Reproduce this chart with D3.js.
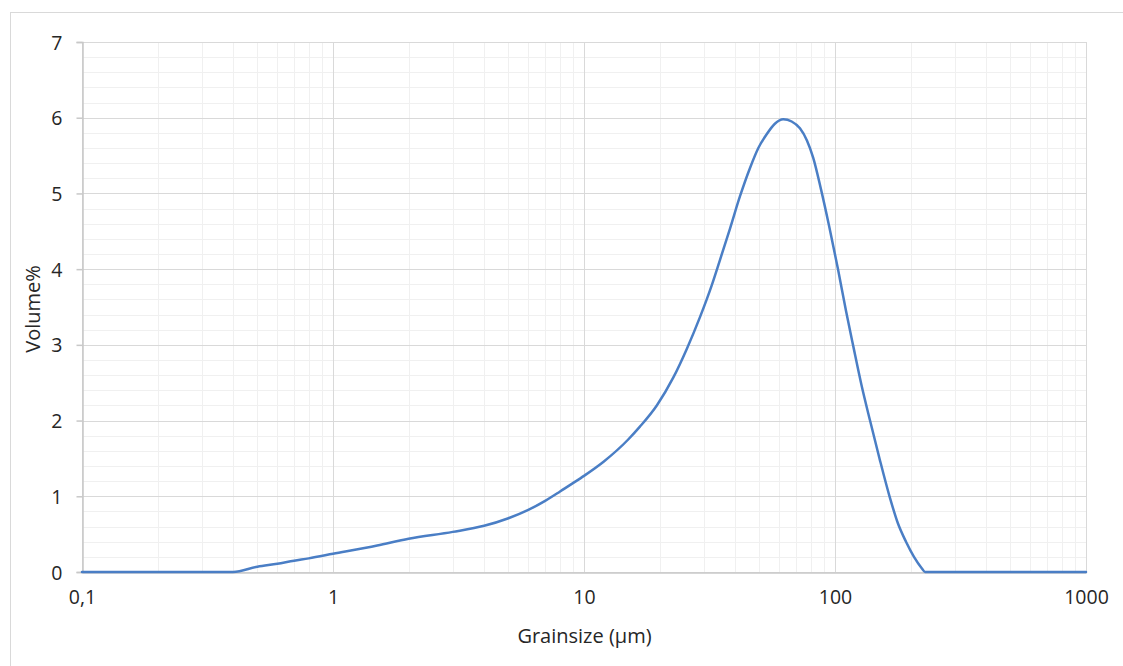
<!DOCTYPE html>
<html>
<head>
<meta charset="utf-8">
<script src="https://cdn.jsdelivr.net/npm/d3@7"></script>
<style>
  html, body { margin: 0; padding: 0; background: #ffffff; }
  svg { display: block; }
  text { font-family: "Open Sans", "DejaVu Sans", sans-serif; fill: #262626; }
</style>
</head>
<body>
<svg id="chart" width="1123" height="666"></svg>
<script>
// Grain size distribution (laser diffraction), volume % per size class
const grainSize = [0.1, 0.2, 0.3, 0.4, 0.5, 0.6, 0.7, 0.8, 1, 1.5, 2, 3, 4, 5, 6, 7, 8, 9, 10,
                   12, 15, 16.7, 19.5, 22.7, 25.7, 29, 32.3, 34.8, 38.2, 41.8, 45.9, 49.5, 53.4, 57.6,
                   62.2, 67.2, 72.5, 77.3, 81.9, 88, 94.6, 102.8, 110.6, 118.3, 127.5, 137.9, 150.4,
                   164.9, 178.2, 191.8, 206.4, 221.6, 228.4, 300, 500, 1000];
const volume    = [0, 0, 0, 0, 0.07, 0.11, 0.15, 0.18, 0.24, 0.35, 0.44, 0.53, 0.61, 0.71, 0.82, 0.94, 1.06, 1.17, 1.27,
                   1.46, 1.75, 1.92, 2.20, 2.57, 2.95, 3.37, 3.79, 4.12, 4.54, 4.96, 5.34, 5.60, 5.78, 5.92,
                   5.98, 5.95, 5.86, 5.70, 5.47, 5.05, 4.58, 4.0, 3.45, 2.98, 2.47, 2.0, 1.5,
                   1.0, 0.64, 0.40, 0.2, 0.05, 0, 0, 0, 0];

const xTickValues = [0.1, 1, 10, 100, 1000];
const xTickLabels = ["0,1", "1", "10", "100", "1000"];
const yTickValues = [0, 1, 2, 3, 4, 5, 6, 7];
const xAxisTitle = "Grainsize (µm)";
const yAxisTitle = "Volume%";

const svg = d3.select("#chart");
const plotLeft = 82, plotRight = 1086, plotTop = 42, plotBottom = 572;

const x = d3.scaleLog().domain([0.1, 1000]).range([plotLeft, plotRight]);
const y = d3.scaleLinear().domain([0, 7]).range([plotBottom, plotTop]);

// chart frame
svg.append("rect")
  .attr("x", 10.5).attr("y", 12.5)
  .attr("width", 1130).attr("height", 700)
  .attr("fill", "#ffffff").attr("stroke", "#d9d9d9").attr("stroke-width", 1);

// minor grid
const minorX = [];
for (let d = 0.1; d < 1000; d *= 10) for (let k = 2; k <= 9; k++) minorX.push(+(d * k).toPrecision(3));
const minorY = d3.range(0, 7.001, 0.2).filter(v => Math.abs(v - Math.round(v)) > 1e-6);

const g = svg.append("g").attr("shape-rendering", "crispEdges");
g.selectAll(".mx").data(minorX).join("line")
  .attr("x1", d => Math.round(x(d)) + 0.5).attr("x2", d => Math.round(x(d)) + 0.5)
  .attr("y1", plotTop).attr("y2", plotBottom)
  .attr("stroke", "#f0f0f0").attr("stroke-width", 1.5);
g.selectAll(".my").data(minorY).join("line")
  .attr("x1", plotLeft).attr("x2", plotRight)
  .attr("y1", d => Math.round(y(d)) + 0.5).attr("y2", d => Math.round(y(d)) + 0.5)
  .attr("stroke", "#f0f0f0").attr("stroke-width", 1.5);

// major grid
g.selectAll(".Mx").data(xTickValues).join("line")
  .attr("x1", d => Math.round(x(d)) + 0.5).attr("x2", d => Math.round(x(d)) + 0.5)
  .attr("y1", plotTop).attr("y2", plotBottom)
  .attr("stroke", "#d9d9d9").attr("stroke-width", 1.5);
g.selectAll(".My").data(yTickValues).join("line")
  .attr("x1", plotLeft).attr("x2", plotRight)
  .attr("y1", d => Math.round(y(d)) + 0.5).attr("y2", d => Math.round(y(d)) + 0.5)
  .attr("stroke", "#d9d9d9").attr("stroke-width", 1.5);

// y axis
const yAxis = svg.append("g")
  .attr("transform", `translate(${plotLeft + 0.5},0)`)
  .call(d3.axisLeft(y).tickValues(yTickValues).tickSize(6).tickPadding(14).tickFormat(d3.format("d")));
yAxis.select(".domain").attr("stroke", "#c8c8c8").attr("stroke-width", 1.5);
yAxis.selectAll(".tick line").attr("stroke", "#c8c8c8").attr("stroke-width", 1.5);
yAxis.selectAll("text").attr("font-size", 19.5).attr("fill", "#262626")
  .attr("font-family", "'Open Sans', sans-serif").attr("dy", "0.36em");

// x axis
const xAxis = svg.append("g")
  .attr("transform", `translate(0,${plotBottom + 0.5})`)
  .call(d3.axisBottom(x).tickValues(xTickValues).tickSize(0).tickPadding(18)
    .tickFormat((d, i) => xTickLabels[i]));
xAxis.select(".domain").attr("stroke", "#c8c8c8").attr("stroke-width", 1.5);
xAxis.selectAll("text").attr("font-size", 19.5).attr("fill", "#262626")
  .attr("font-family", "'Open Sans', sans-serif");

// axis titles
svg.append("text")
  .attr("x", (plotLeft + plotRight) / 2 + 0.5).attr("y", 643)
  .attr("text-anchor", "middle").attr("font-size", 20)
  .text(xAxisTitle);
svg.append("text")
  .attr("transform", `translate(40,${(plotTop + plotBottom) / 2 + 2}) rotate(-90)`)
  .attr("text-anchor", "middle").attr("font-size", 20)
  .text(yAxisTitle);

// distribution curve
const pts = grainSize.map((s, i) => [s, volume[i]]);
const line = d3.line()
  .x(d => x(d[0])).y(d => y(d[1]))
  .curve(d3.curveMonotoneX);
svg.append("path")
  .datum(pts)
  .attr("d", line)
  .attr("fill", "none")
  .attr("stroke", "#4a7ec5")
  .attr("stroke-width", 2.5)
  .attr("stroke-linejoin", "round")
  .attr("stroke-linecap", "round");
</script>
</body>
</html>
